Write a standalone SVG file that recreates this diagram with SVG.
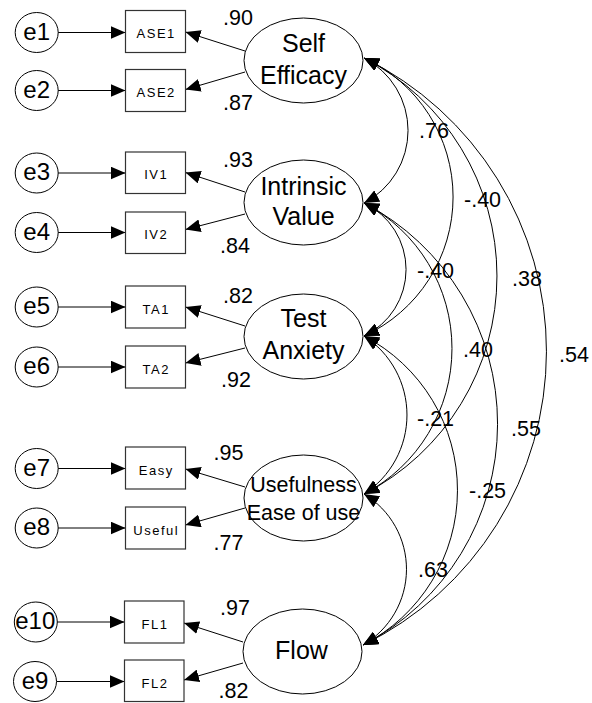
<svg xmlns="http://www.w3.org/2000/svg" width="592" height="703" viewBox="0 0 592 703">
<style>
  .bg { fill: #ffffff; }
  .err ellipse { fill: #ffffff; stroke: #000; stroke-width: 1; }
  .ind rect { fill: #ffffff; stroke: #333; stroke-width: 1.2; }
  .lat ellipse { fill: #ffffff; stroke: #000; stroke-width: 1; }
  text { font-family: "Liberation Sans", Arial, sans-serif; fill: #000; }
  .t-err { font-size: 24px; text-anchor: middle; }
  .t-ind { font-size: 13px; text-anchor: middle; letter-spacing: 1.5px; }
  .t-lat { font-size: 25px; text-anchor: middle; }
  .t-lat2 { font-size: 21.5px; text-anchor: middle; }
  .t-coef { font-size: 21.5px; }
  .conn path, .conn line { fill: none; stroke: #000; stroke-width: 1; }
  .arr { marker-end: url(#ah); }
  .cov { marker-start: url(#ah); marker-end: url(#ah); }
</style>
<defs>
  <marker id="ah" viewBox="0 0 15 13" refX="15" refY="6.5" markerWidth="15" markerHeight="13" markerUnits="userSpaceOnUse" orient="auto-start-reverse">
    <path d="M0,0 L15,6.5 L0,13 z" fill="#000"/>
  </marker>
</defs>
<rect class="bg" x="0" y="0" width="592" height="703"/>

<g id="connectors" class="conn">
  <line class="arr" x1="58" y1="32.5" x2="125.5" y2="32.5"/>
  <line class="arr" x1="58" y1="90.5" x2="125.5" y2="90.5"/>
  <line class="arr" x1="58" y1="173" x2="125.5" y2="173"/>
  <line class="arr" x1="58" y1="232.5" x2="125.5" y2="232.5"/>
  <line class="arr" x1="58" y1="307" x2="125.5" y2="307"/>
  <line class="arr" x1="58" y1="367" x2="125.5" y2="367"/>
  <line class="arr" x1="58" y1="468.5" x2="125.5" y2="468.5"/>
  <line class="arr" x1="58" y1="528" x2="125.5" y2="528"/>
  <line class="arr" x1="57" y1="622" x2="124.5" y2="622"/>
  <line class="arr" x1="56.5" y1="681.5" x2="124.5" y2="681.5"/>
  <line class="arr" x1="245" y1="51" x2="185.5" y2="32"/>
  <line class="arr" x1="245" y1="72" x2="185.5" y2="89.5"/>
  <line class="arr" x1="245" y1="192" x2="185.5" y2="172.5"/>
  <line class="arr" x1="245" y1="214" x2="185.5" y2="229.5"/>
  <line class="arr" x1="245" y1="326" x2="185.5" y2="307"/>
  <line class="arr" x1="245" y1="348" x2="185.5" y2="363"/>
  <line class="arr" x1="245" y1="487" x2="185.5" y2="469"/>
  <line class="arr" x1="245" y1="508" x2="185.5" y2="525"/>
  <line class="arr" x1="243" y1="642" x2="184" y2="623"/>
  <line class="arr" x1="243" y1="663" x2="184" y2="680"/>
  <path class="cov" d="M364,58 A81.7,81.7 0 0 1 364,203"/>
  <path class="cov" d="M364,203 A73.6,73.6 0 0 1 364,336"/>
  <path class="cov" d="M364,336 A94.1,94.1 0 0 1 364,494"/>
  <path class="cov" d="M364,494 A87.8,87.8 0 0 1 363,645"/>
  <path class="cov" d="M364,58 A153,153 0 0 1 364,336"/>
  <path class="cov" d="M364,203 A164.3,164.3 0 0 1 364,494"/>
  <path class="cov" d="M364,336 A174,174 0 0 1 363,645"/>
  <path class="cov" d="M364,58 A245.2,245.2 0 0 1 364,494"/>
  <path class="cov" d="M364,203 A249.2,249.2 0 0 1 363,645"/>
  <path class="cov" d="M364,58 A326.9,326.9 0 0 1 363,645"/>
</g>

<g id="e1" class="err"><ellipse cx="36.7" cy="32.5" rx="21.5" ry="20"/><text class="t-err" x="36.7" y="39.5">e1</text></g>
<g id="e2" class="err"><ellipse cx="36.7" cy="90.5" rx="21.5" ry="20"/><text class="t-err" x="36.7" y="97.5">e2</text></g>
<g id="e3" class="err"><ellipse cx="36.7" cy="173" rx="21.5" ry="20"/><text class="t-err" x="36.7" y="180">e3</text></g>
<g id="e4" class="err"><ellipse cx="36.7" cy="232.5" rx="21.5" ry="20"/><text class="t-err" x="36.7" y="239.5">e4</text></g>
<g id="e5" class="err"><ellipse cx="36.7" cy="307" rx="21.5" ry="20"/><text class="t-err" x="36.7" y="314">e5</text></g>
<g id="e6" class="err"><ellipse cx="36.7" cy="367" rx="21.5" ry="20"/><text class="t-err" x="36.7" y="374">e6</text></g>
<g id="e7" class="err"><ellipse cx="36.7" cy="468.5" rx="21.5" ry="20"/><text class="t-err" x="36.7" y="475.5">e7</text></g>
<g id="e8" class="err"><ellipse cx="36.7" cy="528" rx="21.5" ry="20"/><text class="t-err" x="36.7" y="535">e8</text></g>
<g id="e10" class="err"><ellipse cx="35.8" cy="622" rx="21.5" ry="20"/><text class="t-err" x="35.3" y="629">e10</text></g>
<g id="e9" class="err"><ellipse cx="35" cy="681.5" rx="21.5" ry="20"/><text class="t-err" x="35" y="688.5">e9</text></g>

<g id="ASE1" class="ind"><rect x="125.5" y="10.5" width="60" height="42"/><text class="t-ind" x="156.2" y="38">ASE1</text></g>
<g id="ASE2" class="ind"><rect x="125.5" y="69.5" width="60" height="42"/><text class="t-ind" x="156.2" y="97">ASE2</text></g>
<g id="IV1" class="ind"><rect x="125.5" y="152" width="60" height="41.5"/><text class="t-ind" x="156.2" y="179">IV1</text></g>
<g id="IV2" class="ind"><rect x="125.5" y="212" width="60" height="41.5"/><text class="t-ind" x="156.2" y="239">IV2</text></g>
<g id="TA1" class="ind"><rect x="125.5" y="286" width="60" height="42"/><text class="t-ind" x="156.2" y="313.5">TA1</text></g>
<g id="TA2" class="ind"><rect x="125.5" y="346" width="60" height="42"/><text class="t-ind" x="156.2" y="373.5">TA2</text></g>
<g id="Easy" class="ind"><rect x="125.5" y="447" width="60" height="42"/><text class="t-ind" x="156.2" y="475">Easy</text></g>
<g id="Useful" class="ind"><rect x="125.5" y="507" width="60" height="42"/><text class="t-ind" x="156.2" y="534.5">Useful</text></g>
<g id="FL1" class="ind"><rect x="124.5" y="601" width="59.5" height="42"/><text class="t-ind" x="155" y="628.5">FL1</text></g>
<g id="FL2" class="ind"><rect x="124.5" y="660" width="59.5" height="41.5"/><text class="t-ind" x="155" y="687.5">FL2</text></g>

<g id="SelfEfficacy" class="lat"><ellipse cx="303.5" cy="60.5" rx="59.5" ry="42.5"/><text class="t-lat" x="303.5" y="51.5">Self</text><text class="t-lat" x="303.5" y="84">Efficacy</text></g>
<g id="IntrinsicValue" class="lat"><ellipse cx="303.5" cy="202.5" rx="59.5" ry="42.5"/><text class="t-lat" x="303.5" y="194.5">Intrinsic</text><text class="t-lat" x="303.5" y="225">Value</text></g>
<g id="TestAnxiety" class="lat"><ellipse cx="303.5" cy="336.5" rx="59.5" ry="42.5"/><text class="t-lat" x="303.5" y="327">Test</text><text class="t-lat" x="303.5" y="359">Anxiety</text></g>
<g id="Usefulness" class="lat"><ellipse cx="303.5" cy="498" rx="59.5" ry="43"/><text class="t-lat2" x="303.5" y="492">Usefulness</text><text class="t-lat2" x="303.5" y="519.5">Ease of use</text></g>
<g id="Flow" class="lat"><ellipse cx="302.5" cy="651.5" rx="59.5" ry="42.5"/><text class="t-lat" x="301.5" y="658.5">Flow</text></g>

<g id="labels">
  <text class="t-coef" x="223" y="25">.90</text>
  <text class="t-coef" x="223" y="110">.87</text>
  <text class="t-coef" x="223" y="167">.93</text>
  <text class="t-coef" x="220" y="252.5">.84</text>
  <text class="t-coef" x="223" y="302.5">.82</text>
  <text class="t-coef" x="221" y="387">.92</text>
  <text class="t-coef" x="213.5" y="459.5">.95</text>
  <text class="t-coef" x="213.5" y="550">.77</text>
  <text class="t-coef" x="220" y="615">.97</text>
  <text class="t-coef" x="218.5" y="697.5">.82</text>
  <text class="t-coef" x="419" y="138">.76</text>
  <text class="t-coef" x="464" y="207">-.40</text>
  <text class="t-coef" x="417" y="278">-.40</text>
  <text class="t-coef" x="512" y="286">.38</text>
  <text class="t-coef" x="463" y="357">.40</text>
  <text class="t-coef" x="559" y="362">.54</text>
  <text class="t-coef" x="417" y="426">-.21</text>
  <text class="t-coef" x="511" y="436">.55</text>
  <text class="t-coef" x="469" y="498">-.25</text>
  <text class="t-coef" x="418" y="577">.63</text>
</g>
</svg>
